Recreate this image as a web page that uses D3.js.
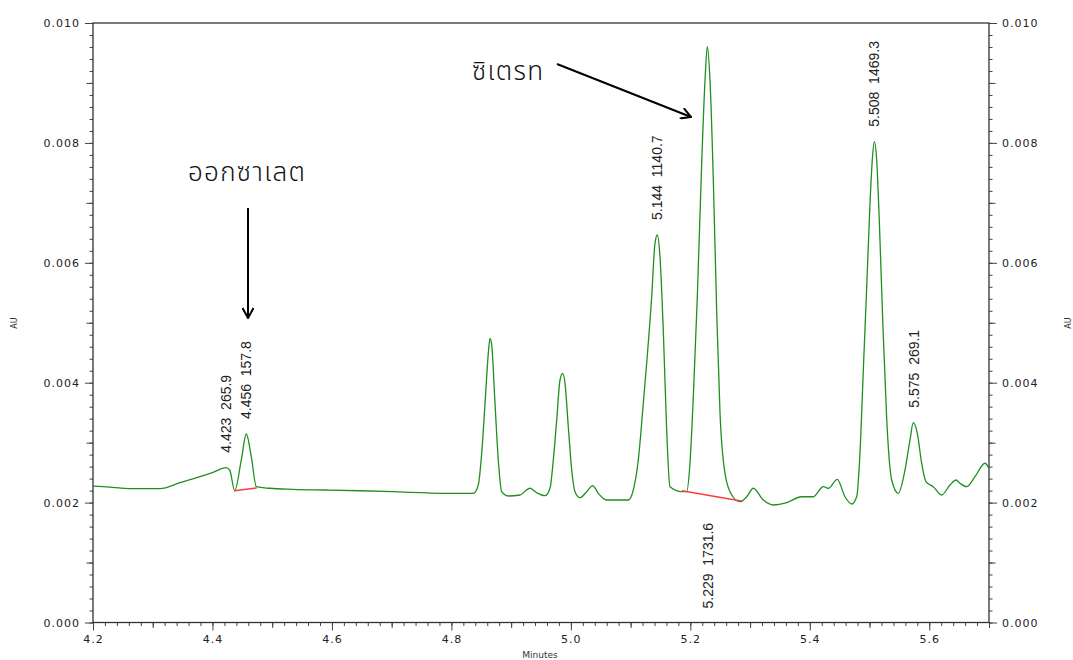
<!DOCTYPE html>
<html lang="th">
<head>
  <meta charset="UTF-8">
  <script src="https://d3js.org/d3.v7.min.js"></script>
  <title>Chromatogram</title>
  <style>
    body { margin: 0; background: #fff; }
    .tick text { font-family: "DejaVu Sans", sans-serif; font-size: 11px; letter-spacing: 1px; fill: #222; }
    .tick line { stroke: #444; }
    .domain { display: none; }
    .peak-label { font-family: "Liberation Sans", Arial, sans-serif; font-size: 14px; fill: #222; white-space: pre; }
    .thai { font-family: "Noto Sans Thai", "Leelawadee UI", Tahoma, "DejaVu Sans", sans-serif; font-size: 26px; font-weight: 300; letter-spacing: 1.3px; fill: #111; }
  </style>
</head>
<body>
<div id="chart"></div>
<script>
  // trace (minutes, AU)
  const timeMin = [4.200, 4.2167, 4.267, 4.3122, 4.3456, 4.3791, 4.4009, 4.4227, 4.4288, 4.4372,
    4.4483, 4.4566, 4.465, 4.4734, 4.4958, 4.5348, 4.5901, 4.647, 4.7022, 4.7491,
    4.7809, 4.8367, 4.845, 4.8507, 4.8563, 4.8618, 4.8646, 4.8675, 4.873, 4.8785,
    4.8842, 4.8953, 4.9148, 4.9316, 4.9428, 4.9567, 4.9651, 4.9706, 4.9763, 4.9818,
    4.9863, 4.9902, 4.9957, 5.0014, 5.0069, 5.0153, 5.0265, 5.0366, 5.0459, 5.060,
    5.0962, 5.1045, 5.1129, 5.1213, 5.1269, 5.1353, 5.1408, 5.1447, 5.1492, 5.1547,
    5.1604, 5.1659, 5.1855, 5.1939, 5.1994, 5.205, 5.2117, 5.219, 5.2246, 5.2284,
    5.2329, 5.2385, 5.2442, 5.2497, 5.258, 5.2693, 5.2832, 5.2944, 5.3054, 5.3222,
    5.3389, 5.3613, 5.3864, 5.4059, 5.4226, 5.431, 5.446, 5.4589, 5.4701, 5.4785,
    5.484, 5.4896, 5.4953, 5.5008, 5.5046, 5.508, 5.512, 5.5163, 5.5221, 5.5288,
    5.5371, 5.5482, 5.5594, 5.5677, 5.5733, 5.580, 5.5873, 5.5945, 5.6067, 5.6208,
    5.6347, 5.6447, 5.6514, 5.6626, 5.6765, 5.6933, 5.700];
  const absAU = [0.002277, 0.002265, 0.002232, 0.002232, 0.002332, 0.002432, 0.002505, 0.002582, 0.002544, 0.002198,
    0.002711, 0.003144, 0.002766, 0.002265, 0.002239, 0.002222, 0.002210, 0.002198, 0.002182, 0.002165,
    0.002155, 0.002155, 0.002294, 0.002822, 0.003656, 0.004490, 0.004741, 0.004629, 0.003656, 0.002711,
    0.002182, 0.002110, 0.002127, 0.002239, 0.002165, 0.002115, 0.002239, 0.002711, 0.003378, 0.004045,
    0.004157, 0.003990, 0.003266, 0.002544, 0.002182, 0.002082, 0.002182, 0.002282, 0.002155, 0.002043,
    0.002043, 0.002210, 0.002711, 0.003661, 0.004324, 0.005435, 0.006325, 0.006464, 0.006102, 0.004879,
    0.003211, 0.002265, 0.002182, 0.002182, 0.002656, 0.003767, 0.005435, 0.007660, 0.009049, 0.009605,
    0.009049, 0.007381, 0.005158, 0.003490, 0.002489, 0.002127, 0.002015, 0.002098, 0.002239, 0.002043,
    0.001960, 0.001998, 0.002098, 0.002098, 0.002265, 0.002239, 0.002389, 0.002098, 0.001977, 0.002098,
    0.002822, 0.004212, 0.005601, 0.006992, 0.007715, 0.008020, 0.007715, 0.006714, 0.005046, 0.003378,
    0.002377, 0.002155, 0.002544, 0.003044, 0.003333, 0.003156, 0.002656, 0.002349, 0.002265, 0.002127,
    0.002294, 0.002377, 0.002322, 0.002265, 0.002432, 0.002656, 0.002572];

  // integration baselines (red)
  const baseStart = [[4.437, 0.002198], [5.186, 0.002198]];
  const baseEnd = [[4.474, 0.002244], [5.285, 0.002026]];

  // peak labels: retention time, area, apex height, drawn below trace?
  const peakTimes = [4.423, 4.456, 5.144, 5.229, 5.508, 5.575];
  const peakAreas = ["265.9", "157.8", "1140.7", "1731.6", "1469.3", "269.1"];
  const peakApex = [0.002582, 0.003144, 0.006464, 0.009605, 0.008020, 0.003333];
  const peakBelow = [false, false, false, true, false, false];

  // annotations (text, arrow from -> to), in data units
  const noteText = ["ออกซาเลต", "ซิเตรท"];
  const noteTextAt = [[4.359, 0.00737], [4.8345, 0.00905]];
  const arrowFrom = [[4.4595, 0.006914], [4.9768, 0.009316]];
  const arrowTo = [[4.4595, 0.005079], [5.2012, 0.008432]];

  const xMajor = [4.2, 4.4, 4.6, 4.8, 5.0, 5.2, 5.4, 5.6];
  const yMajor = [0.000, 0.002, 0.004, 0.006, 0.008, 0.010];

  const width = 1073, height = 660;
  const mLeft = 93, mRight = 989, mTop = 23, mBottom = 622.5;

  const svg = d3.select("#chart").append("svg")
    .attr("width", width).attr("height", height);

  const x = d3.scaleLinear().domain([4.2, 5.7]).range([mLeft, mRight]);
  const y = d3.scaleLinear().domain([0, 0.010]).range([mBottom, mTop]);

  // minor / medium ticks
  const xMinor = d3.range(4.2, 5.7001, 0.02).map(v => +v.toFixed(2));
  const xMid = d3.range(4.3, 5.7001, 0.2).map(v => +v.toFixed(1));
  const yMinor = d3.range(0, 0.01001, 0.0002).map(v => +v.toFixed(4));
  const yMid = [0.001, 0.003, 0.005, 0.007, 0.009];

  function addAxis(axisFn, scale, ticks, size, fmt, tr) {
    const a = axisFn(scale).tickValues(ticks).tickSize(size).tickPadding(5);
    a.tickFormat(fmt ? fmt : () => "");
    svg.append("g").attr("transform", tr).call(a);
  }
  addAxis(d3.axisLeft, y, yMinor, 3.5, null, `translate(${mLeft},0)`);
  addAxis(d3.axisLeft, y, yMid, 6.5, null, `translate(${mLeft},0)`);
  addAxis(d3.axisLeft, y, yMajor, 8, d3.format(".3f"), `translate(${mLeft},0)`);
  addAxis(d3.axisRight, y, yMinor, 3.5, null, `translate(${mRight},0)`);
  addAxis(d3.axisRight, y, yMid, 6.5, null, `translate(${mRight},0)`);
  addAxis(d3.axisRight, y, yMajor, 8, d3.format(".3f"), `translate(${mRight},0)`);
  addAxis(d3.axisBottom, x, xMinor, 3.5, null, `translate(0,${mBottom})`);
  addAxis(d3.axisBottom, x, xMid, 5.5, null, `translate(0,${mBottom})`);
  addAxis(d3.axisBottom, x, xMajor, 8, d3.format(".1f"), `translate(0,${mBottom})`);

  // frame
  svg.append("rect")
    .attr("x", mLeft).attr("y", mTop)
    .attr("width", mRight - mLeft).attr("height", mBottom - mTop)
    .attr("fill", "none").attr("stroke", "#333").attr("stroke-width", 1.3);

  // axis titles
  svg.append("text").attr("transform", "translate(17,323) rotate(-90)")
    .attr("text-anchor", "middle").style("font-family", "DejaVu Sans").style("font-size", "8px")
    .attr("fill", "#333").text("AU");
  svg.append("text").attr("transform", "translate(1071,323) rotate(-90)")
    .attr("text-anchor", "middle").style("font-family", "DejaVu Sans").style("font-size", "8px")
    .attr("fill", "#333").text("AU");
  svg.append("text").attr("x", 540).attr("y", 658)
    .attr("text-anchor", "middle").style("font-family", "DejaVu Sans").style("font-size", "9px")
    .attr("fill", "#333").text("Minutes");

  // trace
  const trace = timeMin.map((t, i) => [t, absAU[i]]);
  const line = d3.line().x(d => x(d[0])).y(d => y(d[1])).curve(d3.curveMonotoneX);
  svg.append("path").datum(trace)
    .attr("d", line)
    .attr("fill", "none").attr("stroke", "#1f8f1f").attr("stroke-width", 1.3);

  // baselines
  svg.selectAll(".baseline").data(baseStart).enter().append("line")
    .attr("class", "baseline")
    .attr("x1", d => x(d[0])).attr("y1", d => y(d[1]))
    .attr("x2", (d, i) => x(baseEnd[i][0])).attr("y2", (d, i) => y(baseEnd[i][1]))
    .attr("stroke", "#ff3b3b").attr("stroke-width", 1.4);

  // peak labels
  svg.selectAll(".peak-label").data(peakTimes).enter().append("text")
    .attr("class", "peak-label")
    .attr("transform", (t, i) => {
      const py = peakBelow[i] ? y(0) - 14 : y(peakApex[i]) - 15;
      return `translate(${x(t)},${py}) rotate(-90)`;
    })
    .attr("dy", "0.35em")
    .text((t, i) => t.toFixed(3) + "  " + peakAreas[i]);

  // annotations
  svg.selectAll(".thai").data(noteText).enter().append("text")
    .attr("class", "thai")
    .attr("x", (d, i) => x(noteTextAt[i][0]))
    .attr("y", (d, i) => y(noteTextAt[i][1]))
    .text(d => d);

  const defs = svg.append("defs");
  defs.append("marker").attr("id", "head")
    .attr("viewBox", "0 0 12 12").attr("refX", 11).attr("refY", 6)
    .attr("markerWidth", 12).attr("markerHeight", 12)
    .attr("markerUnits", "userSpaceOnUse").attr("orient", "auto")
    .append("path").attr("d", "M1,0.5 L11,6 L1,11.5")
    .attr("fill", "none").attr("stroke", "#000").attr("stroke-width", 2);

  svg.selectAll(".arrow").data(arrowFrom).enter().append("line")
    .attr("class", "arrow")
    .attr("x1", d => x(d[0])).attr("y1", d => y(d[1]))
    .attr("x2", (d, i) => x(arrowTo[i][0])).attr("y2", (d, i) => y(arrowTo[i][1]))
    .attr("stroke", "#000").attr("stroke-width", 2)
    .attr("marker-end", "url(#head)");
</script>
</body>
</html>
